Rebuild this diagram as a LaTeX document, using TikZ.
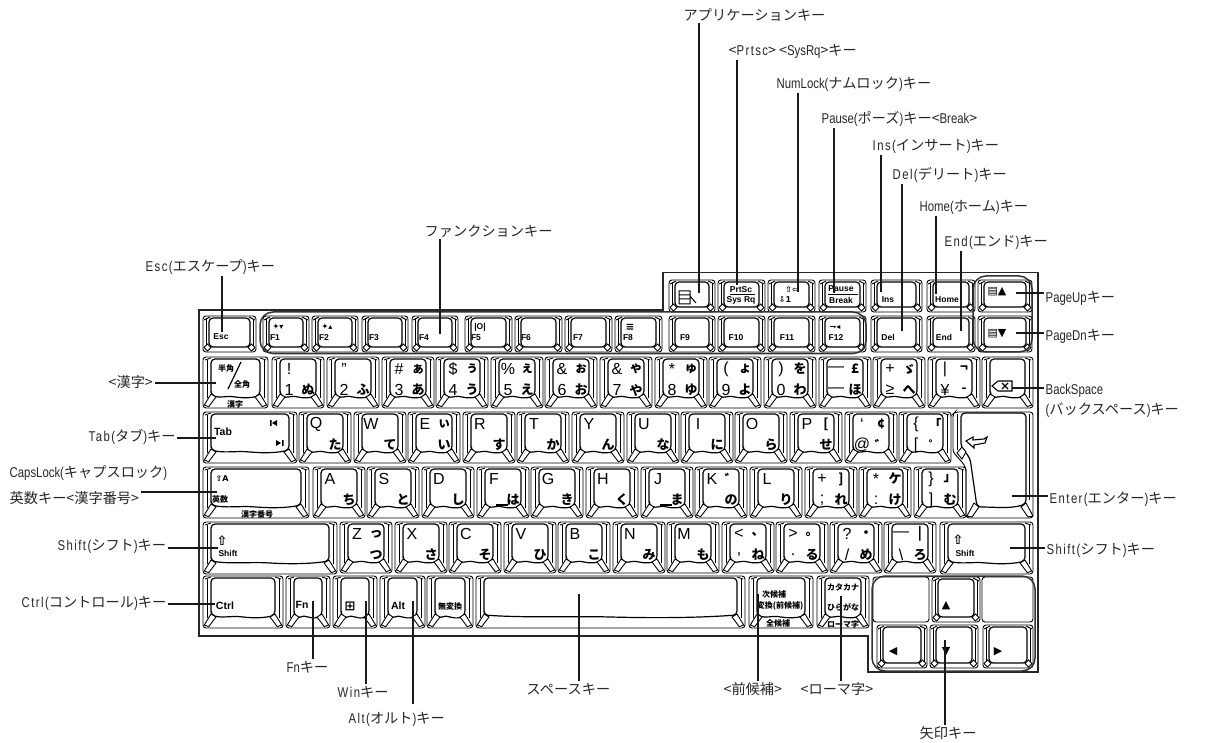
\documentclass[tikz,border=0pt]{standalone}
\usepackage{fontspec}
\setmainfont{Liberation Sans}
\newfontfamily\cjk{Noto Sans CJK JP}
\newfontfamily\latp[FakeStretch=0.8]{Liberation Sans}
\newfontfamily\latm[FakeStretch=0.8,LetterSpace=10]{Liberation Sans}
\newfontfamily\djv{DejaVu Sans}
\newcommand\Lp[1]{{\latp #1}}
\newcommand\Lm[1]{{\latm #1}}
\newcounter{kg}
\tikzset{
  kline/.style={line width=0.9pt,black},
  kthick/.style={line width=1.2pt,black},
  frameline/.style={line width=1.3pt,black!85},
  grp/.style={line width=1.5pt,black!80,rounded corners=13pt},
  leader/.style={line width=1.6pt,black!90},
  lbl/.style={anchor=west,inner sep=1.5pt,text=black!85,font=\cjk\fontsize{14.2}{16}\selectfont},
  big/.style={inner sep=0pt,font=\fontsize{16}{16}\selectfont},
  kana/.style={inner sep=0pt,font=\cjk\bfseries\fontsize{13}{14}\selectfont},
  tiny/.style={inner sep=0pt,font=\bfseries\fontsize{8.5}{9}\selectfont},
  midl/.style={inner sep=0pt,font=\bfseries\fontsize{10.5}{11}\selectfont},
  tinyj/.style={inner sep=0pt,font=\cjk\bfseries\fontsize{8}{9}\selectfont},
  x=1pt,y=-1pt
}
\newcommand\kt[4]{\stepcounter{kg}\node[#1] (t\arabic{kg}) at (#2,#3) {#4};}
\newcommand\keycap[4]{%
  \draw[kline,rounded corners=3pt] (#1,#2) rectangle (#3,#4);
  \draw[kline] (#1+4,#2+3) -- (#1+4,#4-10) (#3-4,#2+3) -- (#3-4,#4-10);
  \draw[kline] (#1+2,#2+3) -- (#1+8,#2+1) (#3-2,#2+3) -- (#3-8,#2+1);
  \draw[kthick,rounded corners=4pt] (#1+8,#4-13) -- (#1+8,#2+2) -- (#3-8,#2+2) -- (#3-8,#4-13)
     .. controls ({#3-8-(#3-#1-16)/6},#4-10) and ({#3-8-(#3-#1-16)/3},#4-10) .. ({(#1+#3)/2},#4-11)
     .. controls ({#1+8+(#3-#1-16)/3},#4-12) and ({#1+8+(#3-#1-16)/6},#4-10) .. cycle;
  \draw[kline,fill=white] (#1+1.3,#4-3) -- (#1+8,#4-14) -- (#1+13,#4-11) -- (#1+5.7,#4-1.3) -- cycle;
  \draw[kline,fill=white] (#3-1.3,#4-3) -- (#3-8,#4-14) -- (#3-13,#4-11) -- (#3-5.7,#4-1.3) -- cycle;
}
\newcommand\fkey[4]{%
  \draw[kline,rounded corners=3pt] (#1,#2) rectangle (#3,#4);
  \draw[kline] (#1+3,#2+3) -- (#1+3,#4-4) (#3-3,#2+3) -- (#3-3,#4-4);
  \draw[kthick,rounded corners=4pt] (#1+6,#2+2) rectangle (#3-6,#4-5);
  \draw[kline] (#1+1,#2+4) -- (#1+7,#2+1) (#3-1,#2+4) -- (#3-7,#2+1);
  \draw[kline,fill=white] (#1+4.5,#4-8) -- (#1+8,#4-4.5) -- (#1+4.5,#4-1) -- (#1+1,#4-4.5) -- cycle;
  \draw[kline,fill=white] (#3-4.5,#4-8) -- (#3-8,#4-4.5) -- (#3-4.5,#4-1) -- (#3-1,#4-4.5) -- cycle;
}
\newcommand\kk[6]{%
  \keycap{#1}{#2}{#1+52}{#2+51}
  \kt{big}{#1+17}{#2+12}{#3}
  \kt{kana}{#1+36}{#2+12}{#4}
  \kt{big}{#1+17}{#2+33}{#5}
  \kt{kana}{#1+36}{#2+33}{#6}
}
\newcommand\fk[5]{\fkey{#1}{316}{#2}{352}\kt{tiny}{#3}{338}{#4}#5}
\begin{document}
\begin{tikzpicture}
\useasboundingbox (0,0) rectangle (1205,743);
\draw[frameline] (199,310) -- (663,310) -- (663,272.5) -- (1038,272.5) -- (1038,672) -- (868,672) -- (868,636) -- (199,636) -- cycle;
% top raised row
\fkey{669}{280}{715}{312}
\fkey{718}{280}{765}{312}
\fkey{768}{280}{815}{312}
\fkey{819}{280}{866}{312}
\fkey{871}{280}{922}{312}
\fkey{927}{280}{975}{312}
\fkey{978}{280}{1032}{312}
\draw[line width=1pt] (679,291) rectangle (690,304) (679,295) -- (690,295) (679,299) -- (690,299) (690,296) -- (696,303);
\kt{tiny}{741}{290}{PrtSc}\draw[line width=0.8pt] (730,294.5) -- (755,294.5);
\kt{tiny}{741}{300}{Sys Rq}
\kt{tinyj}{792}{289}{\djv ⇧⇦}
\kt{tinyj}{785}{300}{\djv ⇩1}
\kt{tiny}{841}{289}{Pause}\draw[line width=0.8pt] (828,294.5) -- (858,294.5);
\kt{tiny}{841}{300}{Break}
\kt{tiny}{888}{300}{Ins}
\kt{tiny}{947}{300}{Home}
\kt{tinyj}{997}{292}{\djv\fontsize{11}{11}\selectfont ▤▲}
% F row
\fkey{203}{316}{256}{352}\kt{tiny}{221}{337}{Esc}
\fk{263}{309}{275}{F1}{\kt{tinyj}{278}{327}{\djv ✦▾}}
\fk{312}{358}{324}{F2}{\kt{tinyj}{327}{327}{\djv ✦▴}}
\fk{362}{408}{374}{F3}{}
\fk{412}{458}{424}{F4}{}
\fk{465}{512}{476}{F5}{\kt{tiny}{480}{327}{|O|}}
\fk{515}{562}{526}{F6}{}
\fk{565}{612}{578}{F7}{}
\fk{615}{662}{628}{F8}{\kt{midl}{630}{327}{\djv ≡}}
\fk{669}{715}{685}{F9}{}
\fk{718}{765}{736}{F10}{}
\fk{768}{815}{787}{F11}{}
\fk{819}{866}{836}{F12}{\kt{tinyj}{835}{327}{\djv ⇁◂}}
\fkey{871}{316}{922}{352}\kt{tiny}{888}{337}{Del}
\fkey{927}{316}{975}{352}\kt{tiny}{944}{337}{End}
\fkey{978}{316}{1032}{352}\kt{tinyj}{997}{334}{\djv\fontsize{11}{11}\selectfont ▤▼}
% number row
\keycap{203}{357}{268}{408}
\kt{tinyj}{226}{368}{半角}\kt{tinyj}{242}{384}{全角}\draw[line width=1.2pt] (228,389) -- (241,362);
\kt{tinyj}{235}{404}{漢字}
\kk{272}{357}{!}{}{1}{ぬ}
\kk{327}{357}{"}{}{2}{ふ}
\kk{382}{357}{\#}{ぁ}{3}{あ}
\kk{436}{357}{\$}{ぅ}{4}{う}
\kk{491}{357}{\%}{ぇ}{5}{え}
\kk{545}{357}{\&}{ぉ}{6}{お}
\kk{600}{357}{\&}{ゃ}{7}{や}
\kk{655}{357}{*}{ゅ}{8}{ゆ}
\kk{709}{357}{(}{ょ}{9}{よ}
\kk{764}{357}{)}{を}{0}{わ}
\kk{819}{357}{—}{£}{—}{ほ}
\kk{873}{357}{+}{ゞ}{≥}{へ}
\kk{928}{357}{|}{¬}{¥}{-}
\keycap{982}{357}{1033}{408}
\draw[line width=1.1pt] (992,386) -- (998,381) -- (1012,381) -- (1012,391) -- (998,391) -- cycle (1002,383) -- (1008,389) (1008,383) -- (1002,389);
% tab row
\keycap{203}{412}{297}{463}
\kt{midl}{223}{432}{Tab}
\fill (272,423) -- (277,420) -- (277,426) -- cycle (270,420) rectangle (271.5,426);
\fill (281,443) -- (276,440) -- (276,446) -- cycle (282,440) rectangle (283.5,446);
\kk{299}{412}{Q}{}{}{た}
\kk{354}{412}{W}{}{}{て}
\kk{408}{412}{E}{ぃ}{}{い}
\kk{463}{412}{R}{}{}{す}
\kk{517}{412}{T}{}{}{か}
\kk{572}{412}{Y}{}{}{ん}
\kk{627}{412}{U}{}{}{な}
\kk{681}{412}{I}{}{}{に}
\kk{735}{412}{O}{}{}{ら}
\kk{790}{412}{P}{[}{}{せ}
\kk{845}{412}{`}{¢}{@}{゛}
\kk{899}{412}{\{}{「}{[}{゜}
% enter
\draw[kline,rounded corners=3pt] (953,414) -- (953,452) -- (962,462) -- (966,468) -- (966,518) -- (1033,518) -- (1033,412) -- (955,412) -- cycle;
\draw[kline] (957,414) -- (957,450) (1029,414) -- (1029,500);
\draw[kthick,rounded corners=4pt] (961,447) -- (961,413) -- (1026,413) -- (1026,504) .. controls (1010,509) and (995,507) .. (977,507) -- (970,458) -- cycle;
\draw[kline,fill=white] (1033,516) -- (1026,503) -- (1021,507) -- (1028,517) -- cycle;
\draw[kline,fill=white] (967,516) -- (974,503) -- (979,507) -- (972,517) -- cycle;
\draw[kline,fill=white] (957,453) -- (962,447) -- (966,452) -- (962,459) -- cycle;
\draw[line width=1.1pt] (966,441) -- (973,437) -- (973,440) -- (984,439) -- (987,437) -- (985,443) -- (974,445) -- (974,448) -- cycle;
% home row
\keycap{203}{467}{309}{518}
\kt{tinyj}{222}{478}{\djv ⇧A}\kt{tinyj}{220}{499}{英数}\kt{tinyj}{257}{514}{漢字番号}
\kk{313}{467}{A}{}{}{ち}
\kk{367}{467}{S}{}{}{と}
\kk{422}{467}{D}{}{}{し}
\kk{477}{467}{F}{}{}{は}
\kk{531}{467}{G}{}{}{き}
\kk{586}{467}{H}{}{}{く}
\kk{641}{467}{J}{}{}{ま}
\kk{695}{467}{K}{゛}{}{の}
\kk{750}{467}{L}{}{}{り}
\kk{805}{467}{+}{]}{;}{れ}
\kk{859}{467}{*}{ケ}{:}{け}
\kk{914}{467}{\}}{」}{]}{む}
\draw[line width=2.4pt] (496,505) -- (508,505) (660,505) -- (672,505);
% shift row
\keycap{203}{522}{337}{574}
\kt{tinyj}{222}{541}{\djv\fontsize{13}{13}\selectfont ⇧}\kt{tiny}{228}{553}{Shift}
\kk{340}{522}{Z}{っ}{}{つ}
\kk{395}{522}{X}{}{}{さ}
\kk{449}{522}{C}{}{}{そ}
\kk{504}{522}{V}{}{}{ひ}
\kk{558}{522}{B}{}{}{こ}
\kk{613}{522}{N}{}{}{み}
\kk{667}{522}{M}{}{}{も}
\kk{722}{522}{<}{、}{,}{ね}
\kk{776}{522}{>}{。}{.}{る}
\kk{830}{522}{?}{・}{/}{め}
\kk{884}{522}{—}{|}{\textbackslash}{ろ}
\keycap{940}{522}{1033}{574}
\kt{tinyj}{958}{540}{\djv\fontsize{13}{13}\selectfont ⇧}\kt{tiny}{965}{553}{Shift}
% bottom row
\keycap{203}{576}{283}{628}\kt{midl}{225}{606}{Ctrl}
\keycap{286}{576}{330}{628}\kt{midl}{302}{605}{Fn}
\keycap{333}{576}{377}{628}\kt{midl}{350}{606}{\djv\fontsize{13}{13}\selectfont ⊞}
\keycap{380}{576}{425}{628}\kt{midl}{398}{606}{Alt}
\keycap{427}{576}{473}{628}\kt{tinyj}{450}{606}{無変換}
\keycap{476}{576}{745}{628}
\keycap{749}{576}{813}{628}\kt{tinyj}{774}{594}{次候補}\kt{tinyj}{780}{606}{変換(前候補)}\kt{tinyj}{778}{623}{全候補}
\keycap{817}{576}{869}{628}\kt{tinyj}{843}{587}{カタカナ}\kt{tinyj}{843}{607}{ひらがな}\kt{tinyj}{843}{624}{ローマ字}
% arrow cluster
\draw[kline,rounded corners=3pt] (873,577) rectangle (929,622);
\fkey{932}{577}{980}{622}
\draw[kline,rounded corners=3pt] (982,577) rectangle (1033,622);
\fkey{877}{625}{927}{668}
\fkey{930}{625}{978}{668}
\fkey{983}{625}{1033}{668}
\kt{tiny}{946}{606}{\djv\fontsize{11}{11}\selectfont ▲}
\kt{tiny}{893}{652}{\djv\fontsize{11}{11}\selectfont ◀}
\kt{tiny}{946}{652}{\djv\fontsize{11}{11}\selectfont ▼}
\kt{tiny}{998}{652}{\djv\fontsize{11}{11}\selectfont ▶}
% group outlines
\draw[grp] (260,312) rectangle (866,353.5);
\draw[grp] (973,276) rectangle (1032,352);
\draw[grp] (872,576) rectangle (1035,671);
% labels
\node[lbl] (app) at (682,15) {アプリケーションキー};
\node[lbl] (prt) at (727,51) {<\Lm{Prtsc}> <\Lp{SysRq}>キー};
\node[lbl] (num) at (775,84) {\Lp{NumLock(}ナムロック\Lp{)}キー};
\node[lbl] (pau) at (820,119) {\Lp{Pause(}ポーズ\Lp{)}キー<\Lp{Break}>};
\node[lbl] (ins) at (871,146) {\Lm{Ins(}インサート\Lm{)}キー};
\node[lbl] (del) at (891,175) {\Lm{Del(}デリート\Lm{)}キー};
\node[lbl] (hom) at (918,207) {\Lp{Home(}ホーム\Lp{)}キー};
\node[lbl] (end) at (943,242) {\Lm{End(}エンド\Lm{)}キー};
\node[lbl] (fun) at (423,231) {ファンクションキー};
\node[lbl] (esc) at (144,267) {\Lm{Esc(}エスケープ\Lm{)}キー};
\node[lbl] (pup) at (1044,298) {\Lp{PageUp}キー};
\node[lbl] (pdn) at (1044,336) {\Lp{PageDn}キー};
\node[lbl] (bsa) at (1044,391) {\Lp{BackSpace}};
\node[lbl] (bsb) at (1044,410) {\Lp{(}バックスペース\Lp{)}キー};
\node[lbl] (ent) at (1048,499) {\Lm{Enter(}エンター\Lm{)}キー};
\node[lbl] (srt) at (1045,550) {\Lm{Shift(}シフト\Lm{)}キー};
\node[lbl] (knj) at (107,382) {<漢字>};
\node[lbl] (tab) at (87,437) {\Lm{Tab(}タブ\Lm{)}キー};
\node[lbl] (cap) at (8,473) {\Lp{CapsLock(}キャプスロック\Lp{)}};
\node[lbl] (cpb) at (8,498) {英数キー<漢字番号>};
\node[lbl] (slf) at (56,546) {\Lm{Shift(}シフト\Lm{)}キー};
\node[lbl] (ctl) at (20,603) {\Lm{Ctrl(}コントロール\Lm{)}キー};
\node[lbl] (fnk) at (285,667) {\Lp{Fn}キー};
\node[lbl] (win) at (336,692) {\Lm{Win}キー};
\node[lbl] (alt) at (347,719) {\Lm{Alt(}オルト\Lm{)}キー};
\node[lbl] (spc) at (525,689) {スペースキー};
\node[lbl] (zen) at (722,689) {<前候補>};
\node[lbl] (rom) at (799,689) {<ローマ字>};
\node[lbl] (yaj) at (918,733) {矢印キー};
% leader end points
\coordinate (eapp) at (699,293);
\coordinate (eprt) at (737,285);
\coordinate (enum) at (798,292);
\coordinate (epau) at (834,293);
\coordinate (eins) at (881,292);
\coordinate (edel) at (902,331);
\coordinate (ehom) at (936,294);
\coordinate (eend) at (961,331);
\coordinate (efun) at (440,334);
\coordinate (eesc) at (222,332);
\coordinate (epup) at (1016,293);
\coordinate (epdn) at (1016,333);
\coordinate (ebsa) at (1012,388);
\coordinate (eent) at (1012,496);
\coordinate (esrt) at (1010,548);
\coordinate (eknj) at (216,383);
\coordinate (etab) at (216,438);
\coordinate (ecap) at (217,492);
\coordinate (eslf) at (218,548);
\coordinate (ectl) at (215,604);
\coordinate (efnk) at (313,601);
\coordinate (ewin) at (366,601);
\coordinate (ealt) at (413,601);
\coordinate (espc) at (579,594);
\coordinate (ezen) at (758,594);
\coordinate (erom) at (841,596);
\coordinate (eyaj) at (945,640);
% leaders
\draw[leader] (app.south -| eapp) -- (eapp);
\draw[leader] (prt.south -| eprt) -- (eprt);
\draw[leader] (num.south -| enum) -- (enum);
\draw[leader] (pau.south -| epau) -- (epau);
\draw[leader] (ins.south -| eins) -- (eins);
\draw[leader] (del.south -| edel) -- (edel);
\draw[leader] (hom.south -| ehom) -- (ehom);
\draw[leader] (end.south -| eend) -- (eend);
\draw[leader] (fun.south -| efun) -- (efun);
\draw[leader] (esc.south -| eesc) -- (eesc);
\draw[leader] (pup.west |- epup) -- (epup);
\draw[leader] (pdn.west |- epdn) -- (epdn);
\draw[leader] (bsa.west |- ebsa) -- (ebsa);
\draw[leader] (ent.west |- eent) -- (eent);
\draw[leader] (srt.west |- esrt) -- (esrt);
\draw[leader] (knj.east |- eknj) -- (eknj);
\draw[leader] (tab.east |- etab) -- (etab);
\draw[leader] (cpb.east |- ecap) -- (ecap);
\draw[leader] (slf.east |- eslf) -- (eslf);
\draw[leader] (ctl.east |- ectl) -- (ectl);
\draw[leader] (fnk.north -| efnk) -- (efnk);
\draw[leader] (win.north -| ewin) -- (ewin);
\draw[leader,shorten <=6pt] (alt.north -| ealt) -- (ealt);
\draw[leader] (spc.north -| espc) -- (espc);
\draw[leader] (zen.north -| ezen) -- (ezen);
\draw[leader] (rom.north -| erom) -- (erom);
\draw[leader] (yaj.north -| eyaj) -- (eyaj);
\end{tikzpicture}
\end{document}
